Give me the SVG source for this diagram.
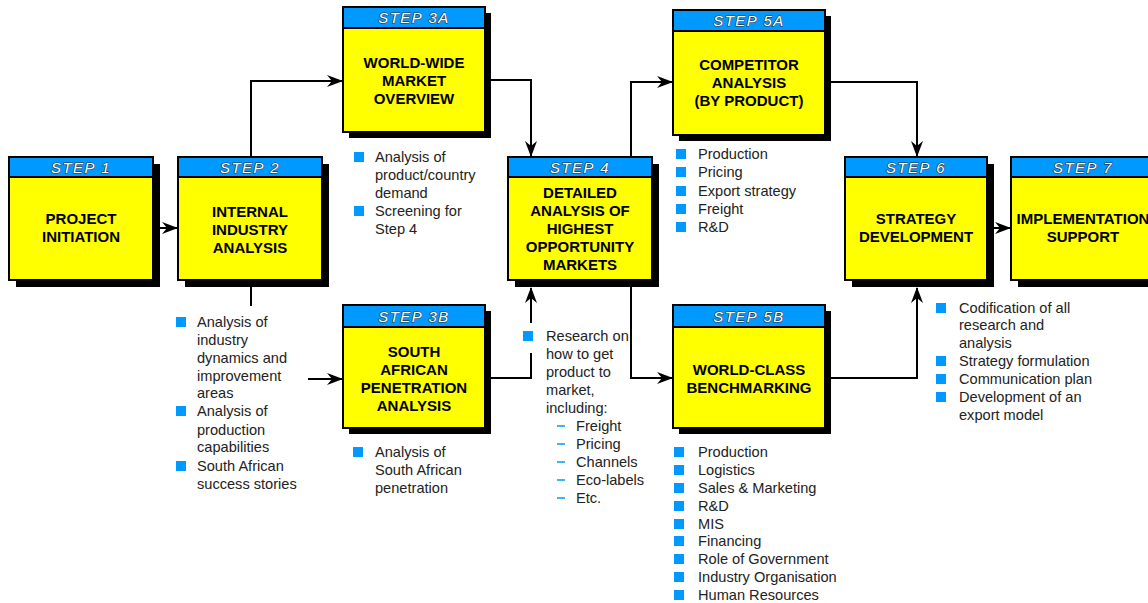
<svg xmlns="http://www.w3.org/2000/svg" width="1148" height="603" viewBox="0 0 1148 603">
<style>
.sh{fill:#000}
.bd{fill:#ffff00;stroke:#000;stroke-width:2}
.hd{fill:#0099ff;stroke:#000;stroke-width:2}
.ht{font-family:"Liberation Sans",Arial,sans-serif;font-style:italic;font-size:15px;letter-spacing:1.5px;fill:#fff;stroke:#333;stroke-width:1.2;paint-order:stroke;text-anchor:middle}
.tt{font-family:"Liberation Sans",Arial,sans-serif;font-weight:bold;font-size:15px;fill:#000;text-anchor:middle}
.bt{font-family:"Liberation Sans",Arial,sans-serif;font-size:14.6px;fill:#222}
.sq{fill:#0099ff}
.dash{stroke:#0099ff;stroke-width:1.3}
.cn{fill:none;stroke:#000;stroke-width:2}
</style>
<defs>
<marker id="ah" markerUnits="userSpaceOnUse" markerWidth="16" markerHeight="12" refX="15" refY="6" orient="auto">
<path d="M0,0 L16,6 L0,12 L5,6 z" fill="#000"/>
</marker>
</defs>

<g id="connectors">
<path class="cn" d="M160,228 H177" marker-end="url(#ah)"/>
<path class="cn" d="M251,157 V81 H342" marker-end="url(#ah)"/>
<path class="cn" d="M251,287 V306"/>
<path class="cn" d="M308,379 H342" marker-end="url(#ah)"/>
<path class="cn" d="M491,80 H531 V156" marker-end="url(#ah)"/>
<path class="cn" d="M631,157 V82 H672" marker-end="url(#ah)"/>
<path class="cn" d="M491,378 H531 V353"/>
<path class="cn" d="M531,323 V288" marker-end="url(#ah)"/>
<path class="cn" d="M631,287 V378 H672" marker-end="url(#ah)"/>
<path class="cn" d="M831,82 H917 V156" marker-end="url(#ah)"/>
<path class="cn" d="M831,378 H917 V288" marker-end="url(#ah)"/>
<path class="cn" d="M993,228 H1010" marker-end="url(#ah)"/>
</g>

<g id="step1">
<rect class="sh" x="16" y="164" width="144" height="123"/>
<rect class="bd" x="9" y="157" width="144" height="123"/>
<rect class="hd" x="9" y="157" width="144" height="20"/>
<text class="ht" x="81" y="172.5">STEP 1</text>
<text class="tt" x="81" y="224">PROJECT</text>
<text class="tt" x="81" y="242">INITIATION</text>
</g>

<g id="step2">
<rect class="sh" x="185" y="164" width="144" height="123"/>
<rect class="bd" x="178" y="157" width="144" height="123"/>
<rect class="hd" x="178" y="157" width="144" height="20"/>
<text class="ht" x="250" y="172.5">STEP 2</text>
<text class="tt" x="250" y="217">INTERNAL</text>
<text class="tt" x="250" y="235">INDUSTRY</text>
<text class="tt" x="250" y="253">ANALYSIS</text>
<rect class="sq" x="176" y="317" width="10" height="10"/>
<rect class="sq" x="176" y="406" width="10" height="10"/>
<rect class="sq" x="176" y="461" width="10" height="10"/>
<text class="bt" x="197"><tspan x="197" y="327">Analysis of</tspan><tspan x="197" y="345">industry</tspan><tspan x="197" y="363">dynamics and</tspan><tspan x="197" y="381">improvement</tspan><tspan x="197" y="398">areas</tspan><tspan x="197" y="416">Analysis of</tspan><tspan x="197" y="435">production</tspan><tspan x="197" y="452">capabilities</tspan><tspan x="197" y="471">South African</tspan><tspan x="197" y="489">success stories</tspan></text>
</g>

<g id="step3a">
<rect class="sh" x="349" y="13" width="142" height="125"/>
<rect class="bd" x="343" y="7" width="142" height="125"/>
<rect class="hd" x="343" y="7" width="142" height="21"/>
<text class="ht" x="414" y="23">STEP 3A</text>
<text class="tt" x="414" y="68">WORLD-WIDE</text>
<text class="tt" x="414" y="86">MARKET</text>
<text class="tt" x="414" y="104">OVERVIEW</text>
<rect class="sq" x="354" y="152" width="10" height="10"/>
<rect class="sq" x="354" y="206" width="10" height="10"/>
<text class="bt"><tspan x="375" y="162">Analysis of</tspan><tspan x="375" y="180">product/country</tspan><tspan x="375" y="198">demand</tspan><tspan x="375" y="216">Screening for</tspan><tspan x="375" y="234">Step 4</tspan></text>
</g>

<g id="step3b">
<rect class="sh" x="349" y="311" width="142" height="123"/>
<rect class="bd" x="343" y="305" width="142" height="123"/>
<rect class="hd" x="343" y="305" width="142" height="22"/>
<text class="ht" x="414" y="321.5">STEP 3B</text>
<text class="tt" x="414" y="357">SOUTH</text>
<text class="tt" x="414" y="375">AFRICAN</text>
<text class="tt" x="414" y="393">PENETRATION</text>
<text class="tt" x="414" y="411">ANALYSIS</text>
<rect class="sq" x="353" y="447" width="10" height="10"/>
<text class="bt"><tspan x="375" y="457">Analysis of</tspan><tspan x="375" y="475">South African</tspan><tspan x="375" y="493">penetration</tspan></text>
</g>

<g id="step4">
<rect class="sh" x="515" y="164" width="144" height="123"/>
<rect class="bd" x="508" y="157" width="144" height="123"/>
<rect class="hd" x="508" y="157" width="144" height="20"/>
<text class="ht" x="580" y="172.5">STEP 4</text>
<text class="tt" x="580" y="198">DETAILED</text>
<text class="tt" x="580" y="216">ANALYSIS OF</text>
<text class="tt" x="580" y="234">HIGHEST</text>
<text class="tt" x="580" y="252">OPPORTUNITY</text>
<text class="tt" x="580" y="270">MARKETS</text>
<rect class="sq" x="523" y="331" width="10" height="10"/>
<text class="bt"><tspan x="546" y="341">Research on</tspan><tspan x="546" y="359">how to get</tspan><tspan x="546" y="377">product to</tspan><tspan x="546" y="395">market,</tspan><tspan x="546" y="413">including:</tspan><tspan x="576" y="431">Freight</tspan><tspan x="576" y="449">Pricing</tspan><tspan x="576" y="467">Channels</tspan><tspan x="576" y="485">Eco-labels</tspan><tspan x="576" y="503">Etc.</tspan></text>
<path class="dash" d="M557,426 H565 M557,444 H565 M557,462 H565 M557,480 H565 M557,498 H565"/>
</g>

<g id="step5a">
<rect class="sh" x="679" y="16" width="152" height="125"/>
<rect class="bd" x="673" y="10" width="152" height="125"/>
<rect class="hd" x="673" y="10" width="152" height="21"/>
<text class="ht" x="749" y="26">STEP 5A</text>
<text class="tt" x="749" y="70">COMPETITOR</text>
<text class="tt" x="749" y="88">ANALYSIS</text>
<text class="tt" x="749" y="106">(BY PRODUCT)</text>
<rect class="sq" x="676" y="149" width="10" height="10"/>
<rect class="sq" x="676" y="167" width="10" height="10"/>
<rect class="sq" x="676" y="186" width="10" height="10"/>
<rect class="sq" x="676" y="204" width="10" height="10"/>
<rect class="sq" x="676" y="222" width="10" height="10"/>
<text class="bt"><tspan x="698" y="159">Production</tspan><tspan x="698" y="177">Pricing</tspan><tspan x="698" y="196">Export strategy</tspan><tspan x="698" y="214">Freight</tspan><tspan x="698" y="232">R&amp;D</tspan></text>
</g>

<g id="step5b">
<rect class="sh" x="679" y="311" width="152" height="123"/>
<rect class="bd" x="673" y="305" width="152" height="123"/>
<rect class="hd" x="673" y="305" width="152" height="22"/>
<text class="ht" x="749" y="321.5">STEP 5B</text>
<text class="tt" x="749" y="375">WORLD-CLASS</text>
<text class="tt" x="749" y="393">BENCHMARKING</text>
<rect class="sq" x="674" y="447" width="10" height="10"/>
<rect class="sq" x="674" y="465" width="10" height="10"/>
<rect class="sq" x="674" y="483" width="10" height="10"/>
<rect class="sq" x="674" y="501" width="10" height="10"/>
<rect class="sq" x="674" y="519" width="10" height="10"/>
<rect class="sq" x="674" y="536" width="10" height="10"/>
<rect class="sq" x="674" y="554" width="10" height="10"/>
<rect class="sq" x="674" y="572" width="10" height="10"/>
<rect class="sq" x="674" y="590" width="10" height="10"/>
<text class="bt"><tspan x="698" y="457">Production</tspan><tspan x="698" y="475">Logistics</tspan><tspan x="698" y="493">Sales &amp; Marketing</tspan><tspan x="698" y="511">R&amp;D</tspan><tspan x="698" y="529">MIS</tspan><tspan x="698" y="546">Financing</tspan><tspan x="698" y="564">Role of Government</tspan><tspan x="698" y="582">Industry Organisation</tspan><tspan x="698" y="600">Human Resources</tspan></text>
</g>

<g id="step6">
<rect class="sh" x="852" y="164" width="142" height="123"/>
<rect class="bd" x="845" y="157" width="142" height="123"/>
<rect class="hd" x="845" y="157" width="142" height="20"/>
<text class="ht" x="916" y="172.5">STEP 6</text>
<text class="tt" x="916" y="224">STRATEGY</text>
<text class="tt" x="916" y="242">DEVELOPMENT</text>
<rect class="sq" x="936" y="303" width="10" height="10"/>
<rect class="sq" x="936" y="356" width="10" height="10"/>
<rect class="sq" x="936" y="374" width="10" height="10"/>
<rect class="sq" x="936" y="392" width="10" height="10"/>
<text class="bt"><tspan x="959" y="313">Codification of all</tspan><tspan x="959" y="330">research and</tspan><tspan x="959" y="348">analysis</tspan><tspan x="959" y="366">Strategy formulation</tspan><tspan x="959" y="384">Communication plan</tspan><tspan x="959" y="402">Development of an</tspan><tspan x="959" y="420">export model</tspan></text>
</g>

<g id="step7">
<rect class="sh" x="1018" y="164" width="144" height="123"/>
<rect class="bd" x="1011" y="157" width="144" height="123"/>
<rect class="hd" x="1011" y="157" width="144" height="20"/>
<text class="ht" x="1083" y="172.5">STEP 7</text>
<text class="tt" x="1083" y="224">IMPLEMENTATION</text>
<text class="tt" x="1083" y="242">SUPPORT</text>
</g>
</svg>
